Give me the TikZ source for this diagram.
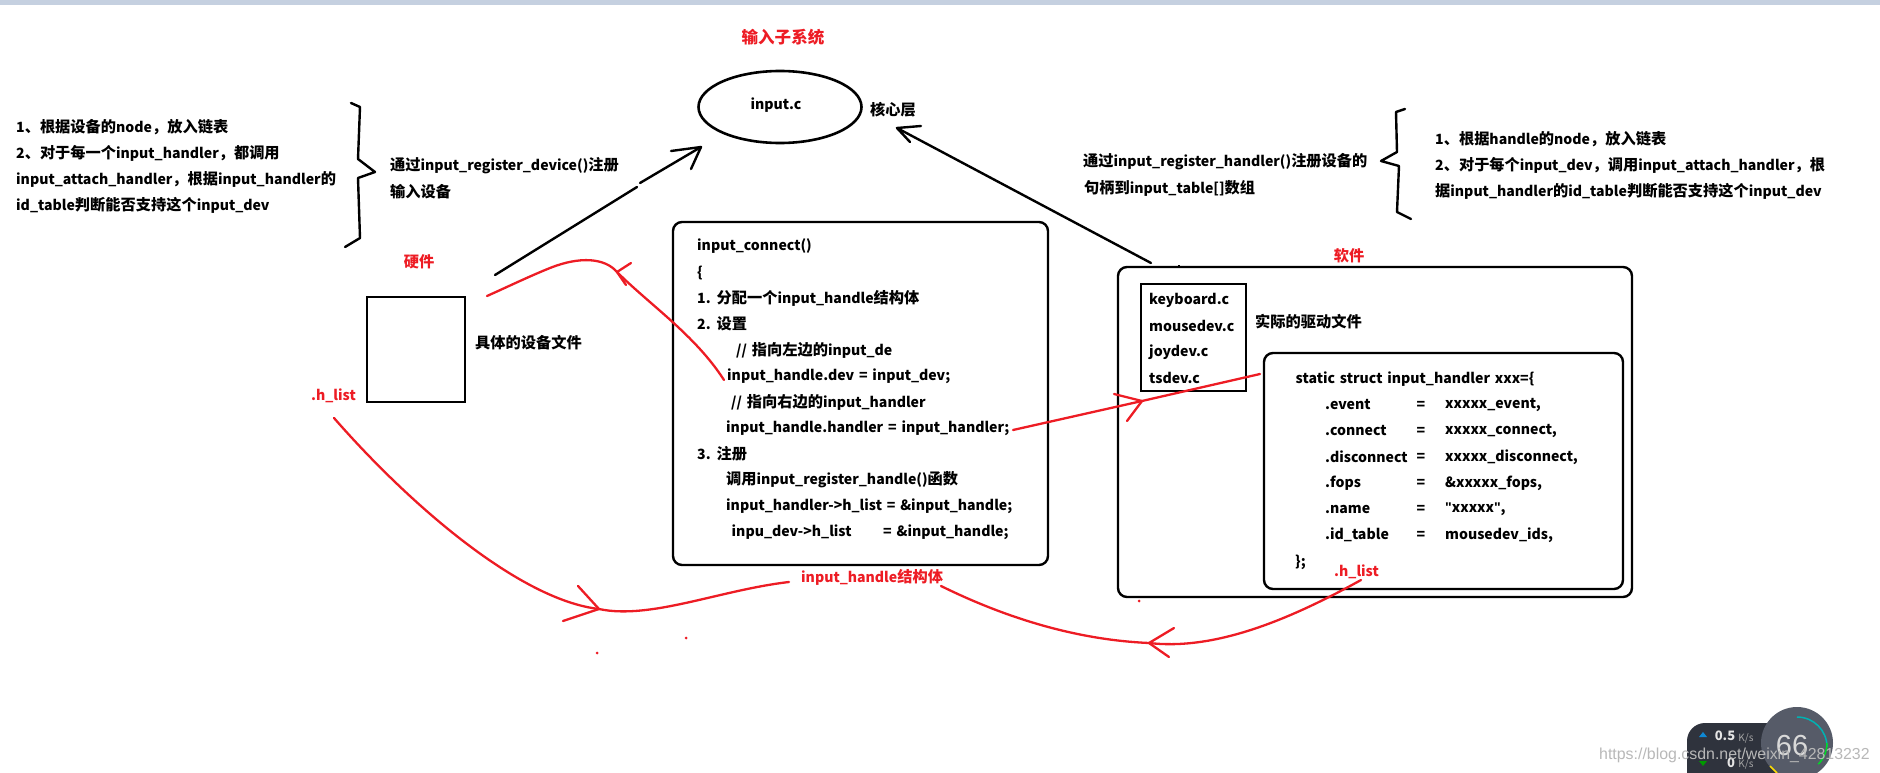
\documentclass[tikz,border=0pt]{standalone}
\usepackage{fontspec}
\setmainfont{Noto Sans CJK SC}[WordSpace=1.5,Ligatures=NoCommon]
\newfontfamily\cjkf{Noto Sans CJK SC}[Scale=1.08]
\newfontfamily\wmf{Liberation Sans}
\newcommand\C[1]{{\cjkf\bfseries #1}}
\newcommand\Q{{\wmf\bfseries\symbol{34}}}
\usetikzlibrary{shapes.geometric}
\definecolor{redink}{RGB}{237,28,36}
\definecolor{barblue}{RGB}{197,208,224}
\definecolor{pilldark}{RGB}{47,51,61}
\definecolor{gaugegray}{RGB}{86,91,104}
\tikzset{
  tx/.style={anchor=west,inner sep=0pt,font=\fontsize{14.1}{14.1}\selectfont\bfseries,text=black},
  rtx/.style={tx,text=redink},
  cx/.style={tx,anchor=center},
  rcx/.style={rtx,anchor=center},
  blk/.style={draw=black,line width=2.4pt,line cap=round,line join=round},
  boxr/.style={draw=black,line width=2.4pt,rounded corners=9pt},
  rd/.style={draw=redink,line width=2.3pt,line cap=round,line join=round},
  dotr/.style={fill=redink},
}
\begin{document}
\begin{tikzpicture}[x=1pt,y=-1pt]
\useasboundingbox (0,0) rectangle (1880,773);
\fill[barblue] (0,0) rectangle (1880,5);
% title and core
\node[rcx,font=\fontsize{15.3}{15.3}\selectfont\bfseries] (title) at (783,37) {\C{输入子系统}};
\node[ellipse,draw=black,line width=2.6pt,minimum width=163pt,minimum height=72pt,inner sep=0pt] (core) at (780,107) {};
\node[cx] (corelabel) at (776,105) {input.c};
\node[cx] (corelayer) at (893,110) {\C{核心层}};
% left notes
\node[tx] (l1) at (16,127) {1\C{、根据设备的}node\C{，放入链表}};
\node[tx] (l2) at (16,153) {2\C{、对于每一个}input\_handler\C{，都调用}};
\node[tx] (l3) at (16,179) {input\_attach\_handler\C{，根据}input\_handler\C{的}};
\node[tx] (l4) at (16,205) {id\_table\C{判断能否支持这个}input\_dev};
\draw[blk] (351,103)--(360,107)--(358,159)--(375,172)--(358,178)--(360,238)--(345,247);
\node[tx] (lr1) at (390,166) {\C{通过}input\_register\_device()\C{注册}};
\node[tx] (lr2) at (390,192) {\C{输入设备}};
% right notes
\node[tx] (m1) at (1083,162) {\C{通过}input\_register\_handler()\C{注册设备的}};
\node[tx] (m2) at (1084,188) {\C{句柄到}input\_table[]\C{数组}};
\draw[blk] (1405,109)--(1396,112)--(1397,152)--(1381,161)--(1399,166)--(1397,212)--(1411,219);
\node[tx] (r1) at (1435,139) {1\C{、根据}handle\C{的}node\C{，放入链表}};
\node[tx] (r2) at (1435,165) {2\C{、对于每个}input\_dev\C{，调用}input\_attach\_handler\C{，根}};
\node[tx] (r3) at (1435,191) {\C{据}input\_handler\C{的}id\_table\C{判断能否支持这个}input\_dev};
% hardware
\node[rcx] (hw) at (419,262) {\C{硬件}};
\node[draw=black,line width=2.6pt,minimum width=98pt,minimum height=105pt,inner sep=0pt] (devbox) at (416,349.5) {};
\node[tx] (devlabel) at (475,343) {\C{具体的设备文件}};
\node[rtx] (hlistl) at (311,396) {.h\_list};
% connect box
\node[boxr,minimum width=375pt,minimum height=343pt,inner sep=0pt] (connbox) at (860.5,393.5) {};
\node[tx] (c1) at (697,246) {input\_connect()};
\node[tx] (c2) at (697,273) {\{};
\node[tx] (c3) at (697,298) {1. \C{分配一个}input\_handle\C{结构体}};
\node[tx] (c4) at (697,324) {2. \C{设置}};
\node[tx] (c5) at (736,350) {// \C{指向左边的}input\_de};
\node[tx] (c6) at (727,376) {input\_handle.dev = input\_dev;};
\node[tx] (c7) at (731,402) {// \C{指向右边的}input\_handler};
\node[tx] (c8) at (726,428) {input\_handle.handler = input\_handler;};
\node[tx] (c9) at (697,454) {3. \C{注册}};
\node[tx] (c10) at (726,480) {\C{调用}input\_register\_handle()\C{函数}};
\node[tx] (c11) at (726,506) {input\_handler->h\_list = \&input\_handle;};
\node[tx] (c12) at (731.5,532) {inpu\_dev->h\_list};
\node[tx] (c12b) at (883,532) {= \&input\_handle;};
\node[rtx] (hstruct) at (801,577) {input\_handle\C{结构体}};
% software
\node[rcx] (sw) at (1349,256) {\C{软件}};
\node[boxr,minimum width=514pt,minimum height=330pt,inner sep=0pt] (swbox) at (1375,432) {};
\node[draw=black,line width=2.6pt,minimum width=105pt,minimum height=107pt,inner sep=0pt] (files) at (1193.5,337.5) {};
\node[tx] (f1) at (1149,300) {keyboard.c};
\node[tx] (f2) at (1149,326) {mousedev.c};
\node[tx] (f3) at (1149,352) {joydev.c};
\node[tx] (f4) at (1149,378) {tsdev.c};
\node[tx] (flabel) at (1255,322) {\C{实际的驱动文件}};
\node[boxr,minimum width=359pt,minimum height=236pt,inner sep=0pt] (hbox) at (1443.5,471) {};
\node[tx] (s0) at (1295.5,379) {static struct input\_handler xxx=\{};
\foreach \nm/\yy/\ka/\va in {a/405/.event/{xxxxx\_event,}, b/431/.connect/{xxxxx\_connect,}, c/457/.disconnect/{xxxxx\_disconnect,}, d/483/.fops/{\&xxxxx\_fops,}, e/509/.name/{\Q xxxxx\Q,}, f/535/.id\_table/{mousedev\_ids,}}{
  \node[tx] (k\nm) at (1325,\yy) {\ka};
  \node[cx] (q\nm) at (1421,\yy) {=};
  \node[tx] (v\nm) at (1445,\yy) {\va};
}
\node[tx] (s7) at (1295,562) {\};};
\node[rtx] (hlistr) at (1334,572) {.h\_list};
% named ends of connectors
\coordinate (a1s) at (495,275); \coordinate (a1h) at (701,147);
\coordinate (a1g1) at (637,187); \coordinate (a1g2) at (640,183);
\coordinate (a2s) at (1151,263); \coordinate (a2h) at (897,128);
\coordinate (h1) at (617,272);
\coordinate (h2) at (1142,401);
\coordinate (h3) at (599,609);
\coordinate (h4) at (1149,643);
% black arrows
\draw[blk] (a1s)--(a1g1);
\draw[blk] (a1g2)--(a1h);
\draw[blk] (671,151)--(a1h)--(691,169);
\draw[blk] (a2s)--(a2h);
\draw[blk] (921,126)--(a2h)--(910,142);
\draw[black,line width=1.5pt] (1179,265)--(1179,268);
% red connectors
\draw[rd] (724,380) .. controls (695,335) and (650,305) .. (h1) .. controls (605,258) and (580,256) .. (550,268) .. controls (530,276) and (505,288) .. (487,296);
\draw[rd] (631,263)--(h1)--(626,285);
\draw[rd] (1013,430)--(h2)--(1260,374);
\draw[rd] (1114,394)--(h2)--(1127,421);
\draw[rd] (334,418) .. controls (410,505) and (520,600) .. (h3) .. controls (650,620) and (720,590) .. (789,582);
\draw[rd] (578,586)--(h3)--(563,621);
\draw[rd] (1361,580) .. controls (1280,625) and (1210,650) .. (h4) .. controls (1080,640) and (1010,620) .. (941,586);
\draw[rd] (1174,628)--(h4)--(1169,657);
\fill[dotr] (686,638) circle (1.5pt);
\fill[dotr] (597,653) circle (1.5pt);
\fill[dotr] (1139,601) circle (1.5pt);
% widget
\begin{scope}
\clip (0,0) rectangle (1880,773);
\fill[pilldark,rounded corners=18pt] (1687,723) rectangle (1800,800);
\fill[gaugegray] (1797,743) circle (36pt);
\draw[teal!60!cyan,line width=1.5pt] (1797,717) arc (90:0:30pt);
\draw[green!70!teal,line width=1.5pt] (1827,743) arc (0:-45:30pt);
\draw[yellow!80!orange,line width=1.5pt] (1770,766) -- (1777,773);
\node[cx,text=white!90!black,font=\fontsize{13}{13}\selectfont\bfseries] (up) at (1725,736) {0.5};
\node[cx,text=white!65!black,font=\fontsize{10}{10}\selectfont] (upu) at (1746,738) {K/s};
\node[cx,text=white!90!black,font=\fontsize{13}{13}\selectfont\bfseries] (dn) at (1731,763) {0};
\node[cx,text=white!65!black,font=\fontsize{10}{10}\selectfont] (dnu) at (1746,764) {K/s};
\fill[cyan!70!blue] (1699,737) -- (1703,732) -- (1707,737) -- cycle;
\fill[green!60!black] (1699,761) -- (1703,766) -- (1707,761) -- cycle;
\node[cx,text=white!85!black,font=\wmf\fontsize{29}{29}\selectfont] (gauge) at (1792,746) {66};
\node[anchor=west,inner sep=0pt,text=white!72!black,font=\wmf\fontsize{15.9}{15.9}\selectfont] (wm) at (1599,755) {https://blog.csdn.net/weixin\_42813232};
\end{scope}
\end{tikzpicture}
\end{document}
